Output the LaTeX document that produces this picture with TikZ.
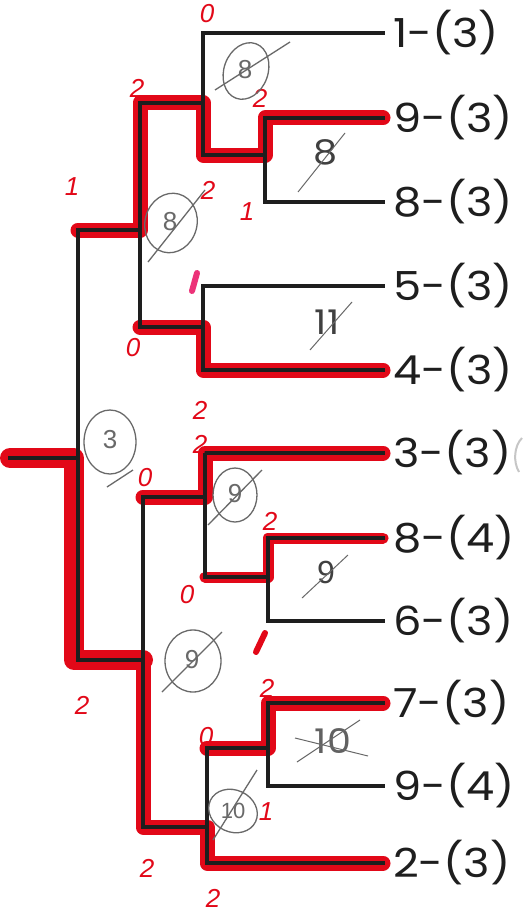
\documentclass[tikz,border=0pt]{standalone}
\usepackage{fontspec}
\setmainfont{Poppins}
\newfontfamily\leaffont{Poppins}[FakeStretch=1.12]
\newfontfamily\handfont{Liberation Sans}
\definecolor{hired}{RGB}{226,8,24}
\definecolor{pinkmark}{RGB}{236,50,120}
\definecolor{pencilgray}{RGB}{105,105,105}
\definecolor{ink}{RGB}{30,30,30}
\begin{document}
\begin{tikzpicture}[x=1pt,y=-1pt,
  tree/.style={line width=4.8pt, draw=ink, line join=miter, line cap=rect},
  hl/.style={line width=15pt, draw=hired, line join=round, line cap=round},
  pencil/.style={line width=1.3pt, draw=pencilgray},
  redlab/.style={text=hired, inner sep=0pt, font=\handfont\itshape\fontsize{26}{26}\selectfont},
  pennum/.style={text=pencilgray, inner sep=0pt, font=\handfont\fontsize{26}{26}\selectfont},
  boxnum/.style={text=ink!85, inner sep=0pt, font=\leaffont\fontsize{34}{34}\selectfont},
  leaflab/.style={anchor=west, inner sep=0pt, text=ink, font=\leaffont\fontsize{40}{40}\selectfont}]
\useasboundingbox (0,0) rectangle (522,915);
\fill[white] (0,0) rectangle (522,915);

% leaf ends
\coordinate (e1) at (383,33);
\coordinate (e2) at (383,118);
\coordinate (e3) at (383,202);
\coordinate (e4) at (383,286);
\coordinate (e5) at (383,370);
\coordinate (e6) at (383,453);
\coordinate (e7) at (383,538);
\coordinate (e8) at (383,621);
\coordinate (e9) at (383,703);
\coordinate (e10) at (383,786);
\coordinate (e11) at (383,863);
% internal junctions
\coordinate (n98) at (265,155);
\coordinate (nA) at (203,103);
\coordinate (n54) at (203,327);
\coordinate (nB) at (140,230);
\coordinate (nD) at (205,497);
\coordinate (n86) at (268,577);
\coordinate (n79) at (268,748);
\coordinate (nE) at (207,827);
\coordinate (nC) at (143,660);
\coordinate (nR) at (78,458);
\coordinate (root) at (10,458);

% red highlights
\draw[hl, line width=20pt] (root) -- ([xshift=-4pt]nR) -- ([xshift=-4pt]nR |- nC) -- (nC);
\draw[hl] (nR |- nC) -- (nC) |- (nE) |- (e11);
\draw[hl] (nR |- nB) -- (nB) |- (nA) |- (n98) |- (e2);
\draw[hl] (nB |- n54) -- (n54) |- (e5);
\draw[hl] (nC |- nD) -- (nD) |- (e6);
\draw[hl, line width=11pt] (nD |- n86) -- (n86) |- (e7);
\draw[hl] (nE |- n79) -- (n79) |- (e9);

% tree
\draw[tree] (root) -- (nR);
\draw[tree] (nR) |- (nB);
\draw[tree] (nR) |- (nC);
\draw[tree] (nB) |- (nA);
\draw[tree] (nB) |- (n54);
\draw[tree] (nA) |- (e1);
\draw[tree] (nA) |- (n98);
\draw[tree] (n98) |- (e2);
\draw[tree] (n98) |- (e3);
\draw[tree] (n54) |- (e4);
\draw[tree] (n54) |- (e5);
\draw[tree] (nC) |- (nD);
\draw[tree] (nC) |- (nE);
\draw[tree] (nD) |- (e6);
\draw[tree] (nD) |- (n86);
\draw[tree] (n86) |- (e7);
\draw[tree] (n86) |- (e8);
\draw[tree] (nE) |- (n79);
\draw[tree] (nE) |- (e11);
\draw[tree] (n79) |- (e9);
\draw[tree] (n79) |- (e10);

% leaf labels
\node[leaflab] (l1) at (393,33) {1-(3)};
\node[leaflab] (l2) at (393,118) {9-(3)};
\node[leaflab] (l3) at (393,202) {8-(3)};
\node[leaflab] (l4) at (393,286) {5-(3)};
\node[leaflab] (l5) at (393,370) {4-(3)};
\node[leaflab] (l6) at (393,453) {3-(3)};
\node[leaflab] (l7) at (393,538) {8-(4)};
\node[leaflab] (l8) at (393,621) {6-(3)};
\node[leaflab] (l9) at (393,703) {7-(3)};
\node[leaflab] (l10) at (393,786) {9-(4)};
\node[leaflab] (l11) at (393,863) {2-(3)};

% red handwritten numbers
\node[redlab] (r1) at (207,14) {0};
\node[redlab] (r2) at (137,88) {2};
\node[redlab] (r3) at (72,187) {1};
\node[redlab] (r4) at (208,190) {2};
\node[redlab] (r5) at (260,98) {2};
\node[redlab] (r6) at (247,212) {1};
\node[redlab] (r7) at (133,348) {0};
\node[redlab] (r8) at (200,410) {2};
\node[redlab] (r9) at (200,444) {2};
\node[redlab] (r10) at (145,478) {0};
\node[redlab] (r11) at (270,521) {2};
\node[redlab] (r12) at (187,595) {0};
\node[redlab] (r13) at (267,688) {2};
\node[redlab] (r14) at (206,737) {0};
\node[redlab] (r15) at (266,812) {1};
\node[redlab] (r16) at (82,705) {2};
\node[redlab] (r17) at (147,868) {2};
\node[redlab] (r18) at (213,898) {2};
\draw[line width=6pt, draw=pinkmark, line cap=round] (192,291) -- (197,273);
\draw[line width=6pt, draw=hired, line cap=round] (256,652) -- (265,633);

% pencil marks
\draw[pencil, rotate around={-20:(246,71)}] (246,71) ellipse [x radius=22pt, y radius=29pt];
\node[pennum] (p1) at (245,70) {8};
\draw[pencil] (215,90) -- (290,42);

\draw[pencil, rotate around={-15:(171,223)}] (171,223) ellipse [x radius=26pt, y radius=30pt];
\node[pennum] (p2) at (170,222) {8};
\draw[pencil] (148,262) -- (205,190);

\node[boxnum] (b1) at (326,152) {8};
\draw[pencil, line width=1pt] (298,192) -- (345,133);

\node[boxnum] (b2) at (327,322) {11};
\draw[pencil, line width=1pt] (310,350) -- (352,302);

\draw[pencil] (110,442) ellipse [x radius=26pt, y radius=32pt];
\node[pennum] (p3) at (110,440) {3};
\draw[pencil] (107,487) -- (133,470);

\draw[pencil] (235,495) ellipse [x radius=22pt, y radius=27pt];
\node[pennum] (p4) at (235,494) {9};
\draw[pencil] (208,525) -- (262,470);

\node[pennum, text=ink!85, font=\handfont\fontsize{32}{32}\selectfont] (b3) at (326,572) {9};
\draw[pencil, line width=1pt] (302,598) -- (348,555);

\draw[pencil] (193,661) ellipse [x radius=28pt, y radius=31pt];
\node[pennum] (p5) at (192,660) {9};
\draw[pencil] (162,692) -- (222,632);

\node[boxnum, text=ink!70] (b4) at (333,741) {10};
\draw[pencil, line width=1pt] (295,738) -- (368,756);
\draw[pencil, line width=1pt] (297,762) -- (360,720);

\draw[pencil, rotate around={-25:(233,811)}] (233,811) ellipse [x radius=25pt, y radius=21pt];
\node[pennum, font=\handfont\fontsize{22}{22}\selectfont] (p6) at (233,811) {10};
\draw[pencil] (213,840) -- (257,770);

\draw[line width=2pt, draw=gray!45] (522,438) .. controls (514,446) and (513,462) .. (519,472);
\end{tikzpicture}
\end{document}
